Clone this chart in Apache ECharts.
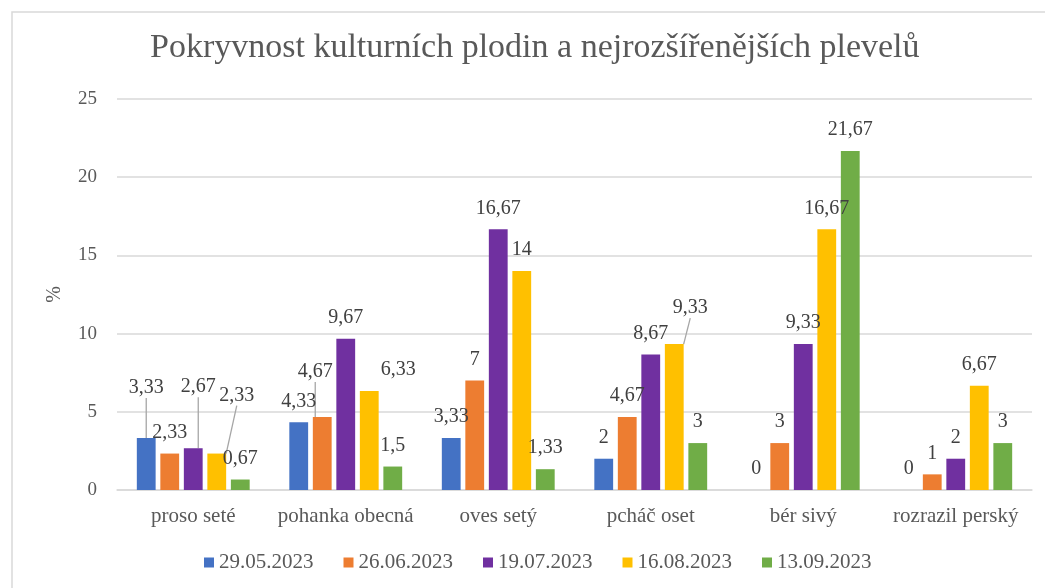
<!DOCTYPE html>
<html>
<head>
    <meta charset="utf-8">
    <script src="https://cdn.jsdelivr.net/npm/echarts@6/dist/echarts.min.js"></script>
    <style type="text/css">
        html, body { width: 100%; height: 100%; }
        * { margin: 0; }
        #chart { width: 1045px; height: 588px; background: #fff; }
    </style>
</head>
<body>
<div id="chart"></div>
<script type="text/javascript">
    // kategorie a hodnoty (pokryvnost v %)
    var categories = ['proso seté', 'pohanka obecná', 'oves setý', 'pcháč oset', 'bér sivý', 'rozrazil perský'];
    var dates = ['29.05.2023', '26.06.2023', '19.07.2023', '16.08.2023', '13.09.2023'];
    var d29_05 = [3.33, 4.33, 3.33, 2, 0, 0];
    var d26_06 = [2.33, 4.67, 7, 4.67, 3, 1];
    var d19_07 = [2.67, 9.67, 16.67, 8.67, 9.33, 2];
    var d16_08 = [2.33, 6.33, 14, 9.33, 16.67, 6.67];
    var d13_09 = [0.67, 1.5, 1.33, 3, 21.67, 3];
    var yTicks = [0, 5, 10, 15, 20, 25];

    var values = [d29_05, d26_06, d19_07, d16_08, d13_09];
    var colors = ['#4472C4', '#ED7D31', '#7030A0', '#FFC000', '#70AD47'];
    var font = 'Liberation Serif';

    // posunuté popisky (jako v Excelu) – "serie,index": [dx, dy, odkazová čára]
    var moved = {
        '0,0': [0, -29, true],
        '2,0': [5, -40, true],
        '3,0': [20, -37, true],
        '1,1': [-7, -24, true],
        '3,1': [29, 0, false],
        '3,3': [16, -15, true]
    };

    var series = values.map(function (arr, s) {
        return {
            name: dates[s],
            type: 'bar',
            barGap: '25%',
            barCategoryGap: '26%',
            itemStyle: { color: colors[s] },
            label: {
                show: true,
                position: 'top',
                distance: 11,
                fontFamily: font,
                fontSize: 20,
                color: '#404040',
                formatter: function (p) { return String(p.value).replace('.', ','); }
            },
            labelLine: { show: false, lineStyle: { color: '#a6a6a6', width: 1.3 } },
            labelLayout: function (p) {
                var m = moved[p.seriesIndex + ',' + p.dataIndex];
                if (!m) return {};
                return { dx: m[0], dy: m[1] };
            },
            data: arr.map(function (v, i) {
                var m = moved[s + ',' + i];
                var item = { value: v };
                if (m && m[2]) item.labelLine = { show: true };
                return item;
            })
        };
    });

    var chart = echarts.init(document.getElementById('chart'));
    chart.setOption({
        animation: false,
        title: {
            text: 'Pokryvnost kulturních plodin a nejrozšířenějších plevelů',
            left: 150,
            top: 31,
            padding: 0,
            textStyle: { fontFamily: font, fontSize: 34, fontWeight: 'normal', color: '#595959' }
        },
        graphic: [{
            type: 'rect',
            shape: { x: 12, y: 12, width: 1100, height: 700 },
            style: { fill: 'none', stroke: '#d9d9d9', lineWidth: 1.5 },
            silent: true
        }],
        legend: {
            top: 547,
            left: 199,
            itemWidth: 10,
            itemHeight: 10,
            itemGap: 30,
            icon: 'rect',
            textStyle: { fontFamily: font, fontSize: 21, color: '#595959' },
            data: dates
        },
        grid: { left: 117, right: 13, top: 99, bottom: 98 },
        xAxis: {
            type: 'category',
            data: categories,
            axisTick: { show: false },
            axisLine: { lineStyle: { color: '#d9d9d9', width: 1.5 } },
            axisLabel: { interval: 0, fontFamily: font, fontSize: 21, color: '#595959', margin: 16 }
        },
        yAxis: {
            type: 'value',
            min: yTicks[0],
            max: yTicks[yTicks.length - 1],
            interval: yTicks[1] - yTicks[0],
            name: '%',
            nameLocation: 'middle',
            nameGap: 52,
            nameRotate: 90,
            nameTextStyle: { fontFamily: font, fontSize: 20, color: '#595959' },
            axisLine: { show: false },
            axisTick: { show: false },
            splitLine: { lineStyle: { color: '#d9d9d9', width: 1.5 } },
            axisLabel: { fontFamily: font, fontSize: 19, color: '#595959', margin: 20 }
        },
        series: series
    });
</script>
</body>
</html>
